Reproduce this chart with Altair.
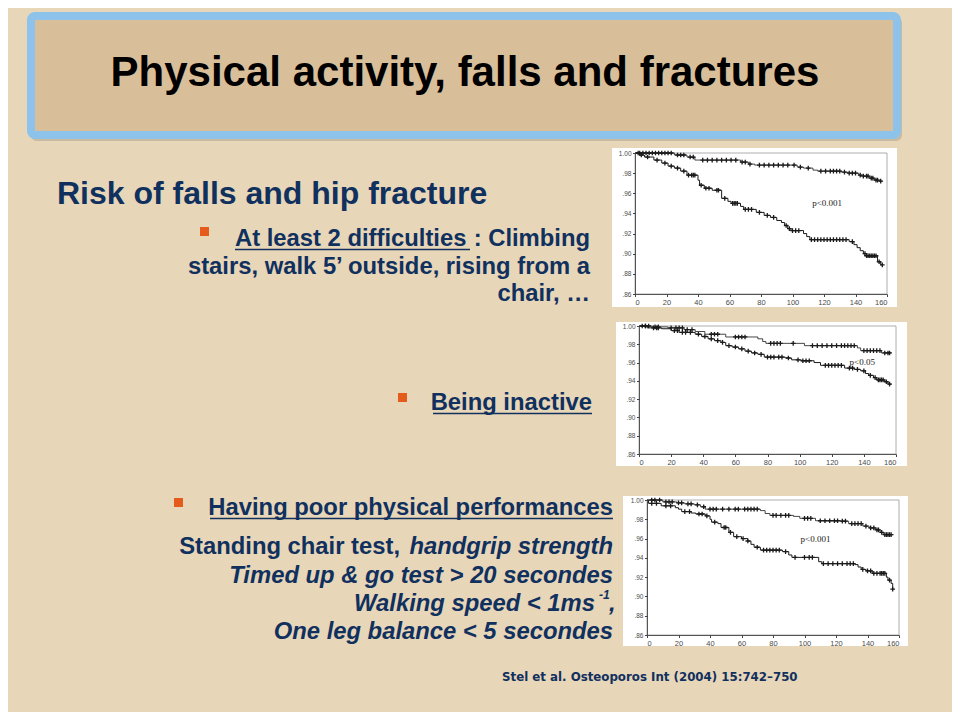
import altair as alt
import pandas as pd

OFF = 8            # page margin
W, H = 944, 704    # chart area

BG = "#E8D6B9"
NAVY = "#10305E"
ORANGE = "#E55B1C"
INK = "#1a1a1a"

# ---------------- text content ----------------
TITLE = "Physical activity, falls and fractures"
SUBTITLE = "Risk of falls and hip fracture"
B1_UNDER = "At least 2 difficulties"
B1_REST = ": Climbing"
B1_L2 = "stairs, walk 5\u2019 outside, rising from a"
B1_L3 = "chair, \u2026"
B2 = "Being inactive"
B3 = "Having poor physical performances"
B3_L1A = "Standing chair test,"
B3_L1B = "handgrip strength"
B3_L2 = "Timed up & go test > 20 secondes"
B3_L3 = "Walking speed < 1ms"
B3_L3_SUP = "-1"
B3_L3_END = ","
B3_L4 = "One leg balance < 5 secondes"
CITATION = "Stel et al. Osteoporos Int (2004) 15:742\u2013750"

X_TICKS = [0, 20, 40, 60, 80, 100, 120, 140, 160]
Y_TICKS = [0.86, 0.88, 0.90, 0.92, 0.94, 0.96, 0.98, 1.00]
P_LABELS = ["p<0.001", "p<0.05", "p<0.001"]
P_POS_X = [122, 139, 107]
P_POS_Y = [0.950, 0.961, 0.9595]

# ---------------- KM curves (time in months, survival) ----------------
P1_UP_T = [0, 25, 33, 38, 67, 72, 76, 103, 107, 113, 116, 131, 135, 142, 145, 149, 152, 155, 157]
P1_UP_S = [1.000, 0.998, 0.996, 0.993, 0.991, 0.989, 0.988, 0.986, 0.985, 0.983, 0.982, 0.981, 0.980,
           0.978, 0.977, 0.975, 0.973, 0.972, 0.972]
P1_UP_C = [3, 5, 7, 9, 11, 13, 15, 17, 19, 21, 23, 27, 29, 31, 35, 37, 43, 46, 49, 52, 55, 58, 61, 64, 68,
           70, 73, 79, 82, 85, 88, 91, 94, 97, 101, 105, 110, 118, 121, 124, 126, 128, 130, 133, 136, 138,
           140, 143, 145, 147, 148, 150, 151, 153, 154, 156]
P1_LO_T = [0, 3, 6, 12, 17, 21, 25, 29, 33, 40, 41, 44, 49, 55, 59, 61, 67, 69, 77, 82, 86, 90, 93, 95,
           97, 99, 107, 109, 111, 136, 139, 141, 143, 145, 147, 154, 156, 157]
P1_LO_S = [1.000, 0.998, 0.996, 0.993, 0.990, 0.987, 0.985, 0.982, 0.978, 0.973, 0.968, 0.965, 0.963,
           0.955, 0.952, 0.950, 0.947, 0.944, 0.941, 0.938, 0.936, 0.933, 0.931, 0.928, 0.925, 0.923,
           0.920, 0.917, 0.914, 0.912, 0.909, 0.906, 0.903, 0.900, 0.898, 0.892, 0.889, 0.889]
P1_LO_C = [2, 4, 8, 14, 19, 23, 27, 31, 34, 36, 37, 38, 42, 45, 47, 52, 53, 57, 62, 63, 64, 65, 70, 72,
           74, 79, 84, 88, 96, 98, 100, 102, 104, 112, 114, 116, 118, 120, 122, 124, 126, 128, 130, 132,
           134, 138, 146, 147, 148, 149, 150, 151, 152, 153, 155, 157]

P2_UP_T = [0, 8, 18, 28, 35, 41, 54, 74, 77, 79, 103, 136, 138, 151, 157]
P2_UP_S = [1.000, 0.999, 0.998, 0.996, 0.994, 0.991, 0.988, 0.986, 0.983, 0.981, 0.9785, 0.976, 0.973,
           0.9705, 0.9705]
P2_UP_C = [4, 6, 10, 12, 20, 23, 25, 27, 30, 33, 45, 47, 49, 60, 62, 64, 66, 82, 84, 86, 88, 96, 108, 111,
           114, 117, 120, 123, 126, 128, 130, 132, 134, 140, 142, 144, 146, 148, 150, 153, 155, 156]
P2_LO_T = [0, 5, 14, 20, 25, 35, 39, 43, 47, 51, 54, 58, 62, 66, 70, 74, 78, 91, 95, 101, 109, 113, 128,
           134, 138, 141, 143, 146, 148, 153, 155, 157]
P2_LO_S = [1.000, 0.998, 0.997, 0.995, 0.993, 0.991, 0.9885, 0.986, 0.984, 0.982, 0.9785, 0.977, 0.975,
           0.9725, 0.9705, 0.969, 0.966, 0.965, 0.963, 0.962, 0.960, 0.957, 0.954, 0.9525, 0.951, 0.948,
           0.946, 0.9435, 0.941, 0.939, 0.9365, 0.9365]
P2_LO_C = [2, 4, 9, 11, 12, 22, 24, 27, 29, 32, 37, 41, 45, 49, 52, 56, 60, 64, 68, 72, 76, 80, 82, 84,
           87, 89, 93, 99, 102, 104, 106, 116, 118, 120, 122, 124, 126, 131, 133, 136, 140, 144, 147, 149,
           150, 151, 152, 154, 156]

P3_UP_T = [0, 10, 19, 24, 30, 34, 37, 72, 75, 78, 93, 97, 107, 123, 128, 137, 141, 145, 148, 150, 156]
P3_UP_S = [1.000, 0.998, 0.997, 0.996, 0.995, 0.993, 0.9905, 0.989, 0.986, 0.984, 0.983, 0.981, 0.9785,
           0.978, 0.9755, 0.973, 0.971, 0.969, 0.9665, 0.964, 0.964]
P3_UP_C = [3, 5, 8, 12, 14, 16, 20, 22, 26, 28, 32, 36, 40, 42, 44, 48, 52, 56, 58, 62, 64, 66, 68, 70,
           80, 82, 85, 88, 90, 100, 102, 104, 110, 113, 116, 119, 121, 124, 126, 130, 132, 134, 136, 139,
           142, 144, 146, 147, 149, 151, 152, 153, 154, 155]
P3_LO_T = [0, 1, 9, 18, 20, 22, 28, 31, 37, 40, 41, 45, 47, 52, 55, 60, 64, 66, 68, 72, 86, 90, 92, 109,
           111, 132, 134, 136, 139, 143, 152, 153, 155, 156]
P3_LO_S = [1.000, 0.9965, 0.994, 0.992, 0.9905, 0.988, 0.9865, 0.9855, 0.9835, 0.980, 0.977, 0.9755,
           0.9715, 0.9665, 0.962, 0.960, 0.9575, 0.954, 0.951, 0.948, 0.9465, 0.943, 0.9405, 0.936, 0.934,
           0.933, 0.9305, 0.928, 0.9265, 0.924, 0.920, 0.917, 0.9135, 0.9075]
P3_LO_C = [3, 6, 12, 15, 24, 27, 33, 35, 38, 43, 49, 50, 53, 57, 61, 64, 70, 74, 76, 78, 80, 82, 84, 88,
           94, 100, 103, 105, 112, 115, 118, 121, 124, 127, 129, 131, 137, 140, 142, 144, 146, 148, 149,
           150, 151, 154, 156]


def step_value(ts, ss, t):
    v = ss[0]
    for ti, si in zip(ts, ss):
        if ti <= t:
            v = si
    return v


def P(v):
    return alt.value(v - OFF)


def text(s, x, y, size=23.8, weight="bold", style="normal", align="left", color=NAVY,
         font="Liberation Sans"):
    return alt.Chart(pd.DataFrame({"label": [s]})).mark_text(
        align=align, baseline="alphabetic", fontSize=size, fontWeight=weight,
        fontStyle=style, font=font, color=color
    ).encode(x=P(x), y=P(y), text="label:N")


def box(x0, y0, x1, y1, **kw):
    return alt.Chart(pd.DataFrame({"k": [0]})).mark_rect(**kw).encode(
        x=P(x0), x2=P(x1), y=P(y0), y2=P(y1))


def hrule(x0, x1, y, color=NAVY, width=1.6):
    return alt.Chart(pd.DataFrame({"k": [0]})).mark_rule(color=color, strokeWidth=width).encode(
        x=P(x0), x2=P(x1), y=P(y))


def km_panel(curves, ptext, px, py, xr, yr, white):
    xs = alt.Scale(domain=[0, 160], range=[xr[0] - OFF, xr[1] - OFF], nice=False, zero=False)
    ys = alt.Scale(domain=[0.86, 1.0], range=[yr[0] - OFF, yr[1] - OFF], nice=False, zero=False)
    layers = [box(*white, fill="white")]
    frame_df = pd.DataFrame({"x0": [0], "x1": [160], "y0": [0.86], "y1": [1.0]})
    common = dict(domain=True, domainColor="#333", domainWidth=0.8, ticks=True, tickSize=2.5,
                  tickColor="#444", labelColor="#4a4a4a", labelFont="Liberation Sans", labelPadding=1.5,
                  grid=False, title=None, labelOverlap=False, zindex=2)
    frame = alt.Chart(frame_df).mark_rect(fillOpacity=0, stroke="#9a9a9a", strokeWidth=0.8).encode(
        x=alt.X("x0:Q", scale=xs, axis=alt.Axis(
            values=X_TICKS, orient="bottom", offset=(yr[0] - OFF) - H, labelFontSize=7.5, **common)),
        x2="x1:Q",
        y=alt.Y("y0:Q", scale=ys, axis=alt.Axis(
            values=Y_TICKS, orient="left", offset=-(xr[0] - OFF), labelFontSize=6.5,
            labelExpr="datum.value >= 0.999 ? '1.00' : replace(format(datum.value, '.2f'), '0.', '.')",
            **common)),
        y2="y1:Q",
    )
    layers.append(frame)
    for ts, ss, cs, w in curves:
        df = pd.DataFrame({"t": ts, "s": ss})
        layers.append(alt.Chart(df).mark_line(interpolate="step-after", color=INK, strokeWidth=w).encode(
            x=alt.X("t:Q", scale=xs, axis=None), y=alt.Y("s:Q", scale=ys, axis=None)))
        cdf = pd.DataFrame({"t": cs, "s": [step_value(ts, ss, c) for c in cs]})
        layers.append(alt.Chart(cdf).mark_point(
            shape="M-1,0H1M0,-1V1", filled=False, size=22, color=INK, strokeWidth=1.3, opacity=1
        ).encode(x=alt.X("t:Q", scale=xs, axis=None), y=alt.Y("s:Q", scale=ys, axis=None)))
    pdf = pd.DataFrame({"t": [px], "s": [py], "label": [ptext]})
    layers.append(alt.Chart(pdf).mark_text(font="Liberation Serif", fontSize=9, color="#222",
                                           align="center", baseline="middle").encode(
        x=alt.X("t:Q", scale=xs, axis=None), y=alt.Y("s:Q", scale=ys, axis=None), text="label:N"))
    return layers


layers = []
# title box
layers.append(box(31, 17, 902, 141, fill="#8f8778", opacity=0.35, cornerRadius=6))
layers.append(box(31, 16, 897, 135, fill="#D9BE9A", stroke="#8DC3EA", strokeWidth=8, cornerRadius=4))
layers.append(text(TITLE, 465, 86, size=42, color="black", align="center"))
layers.append(text(SUBTITLE, 57, 204, size=32))

# bullets
layers.append(box(200, 227, 209, 236, fill=ORANGE))
layers.append(box(398, 393, 407, 402, fill=ORANGE))
layers.append(box(174, 498, 183, 507, fill=ORANGE))

layers.append(text(B1_UNDER, 235, 246))
layers.append(hrule(235, 470, 249.5))
layers.append(text(B1_REST, 590, 246, align="right"))
layers.append(text(B1_L2, 590, 274, align="right"))
layers.append(text(B1_L3, 590, 301, align="right"))
layers.append(text(B2, 592, 410, align="right"))
layers.append(hrule(433, 592, 413.5))
layers.append(text(B3, 613, 515, align="right"))
layers.append(hrule(210, 613, 518.5))
layers.append(text(B3_L1A, 400, 554, align="right"))
layers.append(text(B3_L1B, 613, 554, align="right", style="italic"))
layers.append(text(B3_L2, 613, 583, align="right", style="italic"))
layers.append(text(B3_L3, 595, 611, align="right", style="italic"))
layers.append(text(B3_L3_SUP, 599, 599, size=12, style="italic"))
layers.append(text(B3_L3_END, 609, 611, style="italic"))
layers.append(text(B3_L4, 613, 639, align="right", style="italic"))
layers.append(text(CITATION, 502, 681, size=11.8, font="DejaVu Sans"))

# KM panels
layers += km_panel([(P1_UP_T, P1_UP_S, P1_UP_C, 0.8), (P1_LO_T, P1_LO_S, P1_LO_C, 1.0)],
                   P_LABELS[0], P_POS_X[0], P_POS_Y[0], (635, 887), (294, 153), (612, 148, 897, 307))
layers += km_panel([(P2_UP_T, P2_UP_S, P2_UP_C, 0.8), (P2_LO_T, P2_LO_S, P2_LO_C, 1.0)],
                   P_LABELS[1], P_POS_X[1], P_POS_Y[1], (639, 896), (454, 326), (616, 322, 907, 466))
layers += km_panel([(P3_UP_T, P3_UP_S, P3_UP_C, 0.8), (P3_LO_T, P3_LO_S, P3_LO_C, 1.0)],
                   P_LABELS[2], P_POS_X[2], P_POS_Y[2], (647, 899), (635, 500), (623, 496, 908, 646))

chart = alt.layer(*layers).resolve_scale(x="independent", y="independent").properties(
    width=W, height=H, background=BG, padding=0, autosize=alt.AutoSizeParams(type="none")
).configure_view(strokeWidth=0)

chart.save("out.html", embed_options={"renderer": "svg", "actions": False})
